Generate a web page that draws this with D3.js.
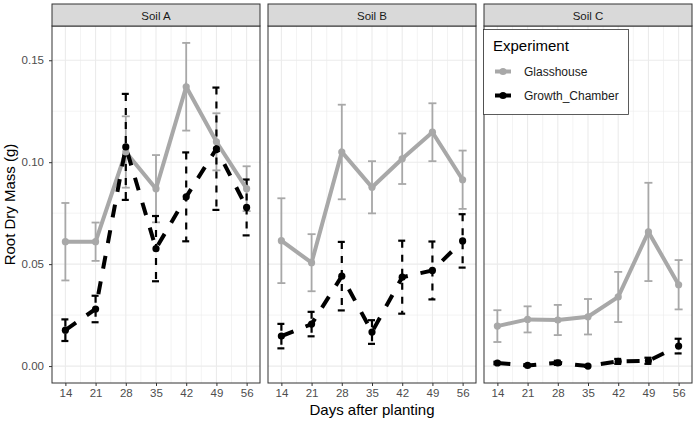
<!DOCTYPE html>
<html>
<head>
<meta charset="utf-8">
<script src="https://cdn.jsdelivr.net/npm/d3@7"></script>
<style>
  body { margin: 0; background: #fff; }
  text { font-family: "Liberation Sans", Arial, sans-serif; }
</style>
</head>
<body>
<script>
const days = [14, 21, 28, 35, 42, 49, 56];
const soils = ["Soil A", "Soil B", "Soil C"];
const experiments = ["Glasshouse", "Growth_Chamber"];
const yTicks = [0, 0.05, 0.1, 0.15];

// means and half-widths of the error bars
const glassA = [0.061, 0.061, 0.105, 0.087, 0.137, 0.110, 0.087];
const glassAErr = [0.019, 0.0094, 0.0175, 0.0165, 0.0215, 0.014, 0.011];
const chamberA = [0.0176, 0.028, 0.1075, 0.0576, 0.083, 0.1066, 0.0778];
const chamberAErr = [0.0053, 0.0065, 0.026, 0.016, 0.0218, 0.030, 0.0137];

const glassB = [0.0615, 0.0507, 0.105, 0.0877, 0.1017, 0.1147, 0.0914];
const glassBErr = [0.0208, 0.014, 0.0232, 0.0128, 0.0124, 0.0142, 0.0143];
const chamberB = [0.0147, 0.0206, 0.0441, 0.0167, 0.0436, 0.0469, 0.0614];
const chamberBErr = [0.006, 0.006, 0.0168, 0.0058, 0.0179, 0.0142, 0.0131];

const glassC = [0.0196, 0.0229, 0.0226, 0.0242, 0.0339, 0.0658, 0.0399];
const glassCErr = [0.0078, 0.0064, 0.0074, 0.0087, 0.0123, 0.0241, 0.0121];
const chamberC = [0.0015, 0.0003, 0.0016, 0.0, 0.0023, 0.0026, 0.0098];
const chamberCErr = [0.0006, 0.0003, 0.001, 0.0003, 0.0012, 0.0015, 0.0036];

const seriesBySoil = [
  [[glassA, glassAErr], [chamberA, chamberAErr]],
  [[glassB, glassBErr], [chamberB, chamberBErr]],
  [[glassC, glassCErr], [chamberC, chamberCErr]],
];

const width = 694;
const height = 421;
const left = 52;
const right = 692;
const gap = 8;
const panelW = (right - left - 2 * gap) / 3;
const stripTop = 4;
const stripH = 22;
const plotTop = stripTop + stripH;
const plotBottom = 383;

const grey = "#a8a8a8";
const colors = { Glasshouse: grey, Growth_Chamber: "#000" };

const svg = d3.select("body").append("svg")
  .attr("width", width)
  .attr("height", height);

const y = d3.scaleLinear().domain([-0.0083, 0.1668]).range([plotBottom, plotTop]);

soils.forEach((soil, i) => {
  const x0 = left + i * (panelW + gap);
  const x = d3.scaleLinear().domain([10.9, 59.1]).range([x0, x0 + panelW]);
  const g = svg.append("g");

  // grid
  const minorX = d3.range(17.5, 56, 7);
  g.selectAll(".minx").data(minorX).enter().append("line")
    .attr("x1", d => x(d)).attr("x2", d => x(d))
    .attr("y1", plotTop).attr("y2", plotBottom)
    .attr("stroke", "#ebebeb").attr("stroke-width", 0.6);
  g.selectAll(".miny").data([0.025, 0.075, 0.125]).enter().append("line")
    .attr("x1", x0).attr("x2", x0 + panelW)
    .attr("y1", d => y(d)).attr("y2", d => y(d))
    .attr("stroke", "#ebebeb").attr("stroke-width", 0.6);
  g.selectAll(".majx").data(days).enter().append("line")
    .attr("x1", d => x(d)).attr("x2", d => x(d))
    .attr("y1", plotTop).attr("y2", plotBottom)
    .attr("stroke", "#ebebeb").attr("stroke-width", 1.1);
  g.selectAll(".majy").data(yTicks).enter().append("line")
    .attr("x1", x0).attr("x2", x0 + panelW)
    .attr("y1", d => y(d)).attr("y2", d => y(d))
    .attr("stroke", "#ebebeb").attr("stroke-width", 1.1);

  const series = experiments.map((exp, k) => ({
    exp: exp,
    points: days.map((d, j) => ({
      day: d,
      value: seriesBySoil[i][k][0][j],
      err: seriesBySoil[i][k][1][j],
    })),
  }));

  // error bars
  series.forEach(s => {
    const dashed = s.exp === "Growth_Chamber";
    const eb = g.append("g")
      .attr("stroke", colors[s.exp])
      .attr("stroke-width", dashed ? 2.2 : 1.8)
      .attr("fill", "none");
    s.points.forEach(p => {
      const cx = x(p.day);
      const top = y(p.value + p.err);
      const bot = y(p.value - p.err);
      [[cx - 4, top, cx + 4, top], [cx, top, cx, bot], [cx - 4, bot, cx + 4, bot]]
        .forEach(c => {
          eb.append("line")
            .attr("x1", c[0]).attr("y1", c[1]).attr("x2", c[2]).attr("y2", c[3])
            .attr("stroke-dasharray", dashed ? "7,7" : null);
        });
    });
  });

  // lines
  const line = d3.line().x(p => x(p.day)).y(p => y(p.value));
  series.forEach(s => {
    g.append("path")
      .datum(s.points)
      .attr("d", line)
      .attr("fill", "none")
      .attr("stroke", colors[s.exp])
      .attr("stroke-width", 4)
      .attr("stroke-dasharray", s.exp === "Growth_Chamber" ? "13,13" : null);
  });

  // points
  series.forEach(s => {
    g.selectAll(null).data(s.points).enter().append("circle")
      .attr("cx", p => x(p.day))
      .attr("cy", p => y(p.value))
      .attr("r", 3.6)
      .attr("fill", colors[s.exp]);
  });

  // border
  g.append("rect")
    .attr("x", x0).attr("y", plotTop)
    .attr("width", panelW).attr("height", plotBottom - plotTop)
    .attr("fill", "none").attr("stroke", "#333").attr("stroke-width", 1);

  // strip
  g.append("rect")
    .attr("x", x0).attr("y", stripTop)
    .attr("width", panelW).attr("height", stripH)
    .attr("fill", "#d9d9d9").attr("stroke", "#333").attr("stroke-width", 1);
  g.append("text")
    .attr("x", x0 + panelW / 2).attr("y", stripTop + 15.5)
    .attr("text-anchor", "middle")
    .attr("font-size", "11.5px")
    .attr("fill", "#1a1a1a")
    .text(soil);

  // x axis
  const xAxis = d3.axisBottom(x).tickValues(days).tickSize(3).tickPadding(3);
  const ax = g.append("g").attr("transform", `translate(0,${plotBottom})`).call(xAxis);
  ax.select(".domain").remove();
  ax.selectAll(".tick line").attr("stroke", "#333").attr("stroke-width", 1);
  ax.selectAll(".tick text")
    .attr("fill", "#4d4d4d")
    .attr("font-size", "11.5px")
    .attr("font-family", "Liberation Sans, Arial, sans-serif");

  if (i === 0) {
    const yAxis = d3.axisLeft(y).tickValues(yTicks).tickFormat(d3.format(".2f")).tickSize(3).tickPadding(5);
    const ay = g.append("g").attr("transform", `translate(${x0},0)`).call(yAxis);
    ay.select(".domain").remove();
    ay.selectAll(".tick line").attr("stroke", "#333").attr("stroke-width", 1);
    ay.selectAll(".tick text")
      .attr("fill", "#4d4d4d")
      .attr("font-size", "11.5px")
      .attr("font-family", "Liberation Sans, Arial, sans-serif");
  }
});

// axis titles
svg.append("text")
  .attr("x", (left + right) / 2).attr("y", 415)
  .attr("text-anchor", "middle")
  .attr("font-size", "15px")
  .attr("fill", "#000")
  .text("Days after planting");

svg.append("text")
  .attr("transform", `translate(15,${(plotTop + plotBottom) / 2}) rotate(-90)`)
  .attr("text-anchor", "middle")
  .attr("font-size", "15px")
  .attr("fill", "#000")
  .text("Root Dry Mass (g)");

// legend
const legendX = 483.5;
const legendY = 29.5;
const legend = svg.append("g");
legend.append("rect")
  .attr("x", legendX).attr("y", legendY)
  .attr("width", 145).attr("height", 85)
  .attr("fill", "#fff").attr("stroke", "#333").attr("stroke-width", 0.8);
legend.append("text")
  .attr("x", 493).attr("y", 51)
  .attr("font-size", "15px")
  .attr("fill", "#000")
  .text("Experiment");
experiments.forEach((exp, k) => {
  const ly = 71.5 + k * 24;
  legend.append("line")
    .attr("x1", 495).attr("x2", 511)
    .attr("y1", ly).attr("y2", ly)
    .attr("stroke", colors[exp]).attr("stroke-width", 4);
  legend.append("circle")
    .attr("cx", 503).attr("cy", ly).attr("r", 3.6)
    .attr("fill", colors[exp]);
  legend.append("text")
    .attr("x", 524).attr("y", ly + 4)
    .attr("font-size", "12px")
    .attr("fill", "#1a1a1a")
    .text(exp);
});
</script>
</body>
</html>
